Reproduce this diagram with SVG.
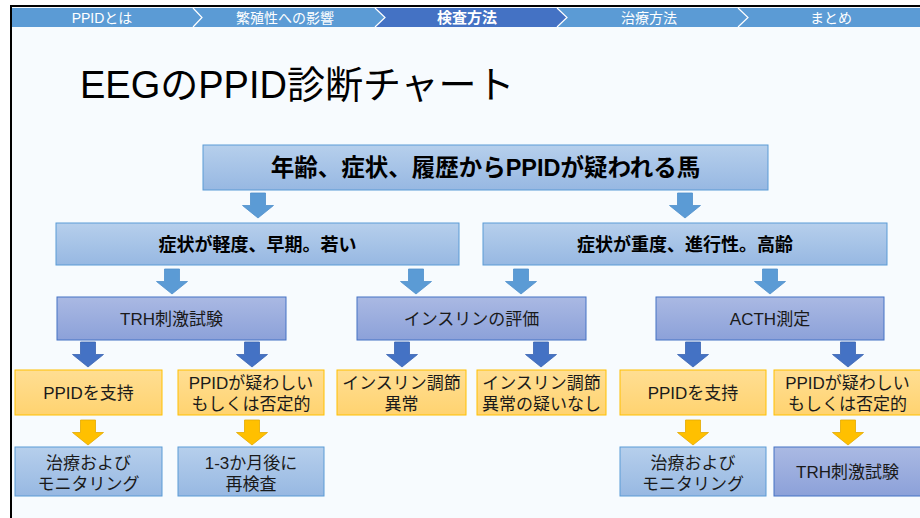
<svg xmlns="http://www.w3.org/2000/svg" width="920" height="518" viewBox="0 0 920 518">
<defs>
<linearGradient id="gBlue" x1="0" y1="0" x2="0" y2="1"><stop offset="0" stop-color="#B6CFEC"/><stop offset="1" stop-color="#97B8E2"/></linearGradient>
<linearGradient id="gPurple" x1="0" y1="0" x2="0" y2="1"><stop offset="0" stop-color="#AAB9E3"/><stop offset="1" stop-color="#8CA1D9"/></linearGradient>
<linearGradient id="gOrange" x1="0" y1="0" x2="0" y2="1"><stop offset="0" stop-color="#FFDE93"/><stop offset="1" stop-color="#FFD370"/></linearGradient>
<path id="arr" d="M-7.5,0 H7.5 V12.5 H15.5 L0,25 L-15.5,12.5 H-7.5 Z"/>
<style>
text{font-family:"Liberation Sans","Noto Sans CJK JP",sans-serif;text-anchor:middle;fill:#1a1a1a}
.tab{fill:#fff;font-size:14px}
.tabA{fill:#fff;font-size:15px;font-weight:bold}
.title{font-size:38px;text-anchor:start;fill:#000}
.nb{fill:url(#gBlue);stroke:#5B9BD5;stroke-width:1}
.np{fill:url(#gPurple);stroke:#4472C4;stroke-width:1}
.no{fill:url(#gOrange);stroke:#FFC000;stroke-width:1}
.big{font-size:23.5px;font-weight:bold;fill:#000}
.mid{font-size:18px;font-weight:bold;fill:#000}
.t{font-size:17px}
.aL{fill:#5B9BD5;stroke:#4F8FCB;stroke-width:0.8}
.aD{fill:#4472C4;stroke:#3A65B3;stroke-width:0.8}
.aY{fill:#FFC000;stroke:#E3AA00;stroke-width:0.8}
.chev{fill:none;stroke:#fff;stroke-width:1.2}
</style>
</defs>
<rect x="0" y="0" width="920" height="518" fill="#fff"/>
<rect x="11" y="6" width="909" height="512" fill="#F7FBFE"/>
<g id="tabs">
<rect x="11" y="8" width="909" height="19" fill="#5B9BD5"/>
<polygon points="375,8 557,8 567,17.5 557,27 375,27 385,17.5" fill="#4472C4"/>
<polyline class="chev" points="193,8 202,17.5 193,27"/>
<polyline class="chev" points="375,8 385,17.5 375,27"/>
<polyline class="chev" points="557,8 567,17.5 557,27"/>
<polyline class="chev" points="738,8 748,17.5 738,27"/>
<text class="tab" x="102" y="23">PPIDとは</text>
<text class="tab" x="285" y="23">繁殖性への影響</text>
<text class="tabA" x="467" y="23">検査方法</text>
<text class="tab" x="649" y="23">治療方法</text>
<text class="tab" x="831" y="23">まとめ</text>
</g>
<rect x="10" y="5" width="910" height="2" fill="#000"/>
<rect x="10" y="5" width="2" height="513" fill="#000"/>
<text class="title" x="80" y="98">EEGのPPID診断チャート</text>
<g id="connectors">
<use href="#arr" class="aL" x="258" y="193"/>
<use href="#arr" class="aL" x="685" y="193"/>
<use href="#arr" class="aL" x="172" y="269"/>
<use href="#arr" class="aL" x="416" y="269"/>
<use href="#arr" class="aL" x="521" y="269"/>
<use href="#arr" class="aL" x="770" y="269"/>
<use href="#arr" class="aD" x="88" y="342"/>
<use href="#arr" class="aD" x="252" y="342"/>
<use href="#arr" class="aD" x="402" y="342"/>
<use href="#arr" class="aD" x="541" y="342"/>
<use href="#arr" class="aD" x="693" y="342"/>
<use href="#arr" class="aD" x="848" y="342"/>
<use href="#arr" class="aY" x="88" y="420"/>
<use href="#arr" class="aY" x="252" y="420"/>
<use href="#arr" class="aY" x="693" y="420"/>
<use href="#arr" class="aY" x="848" y="420"/>
</g>
<g id="n-top"><rect class="nb" x="203" y="145" width="565" height="45"/><text class="big" x="485.5" y="176">年齢、症状、履歴からPPIDが疑われる馬</text></g>
<g id="n-mild"><rect class="nb" x="56" y="223" width="403" height="42"/><text class="mid" x="257.5" y="250.5">症状が軽度、早期。若い</text></g>
<g id="n-severe"><rect class="nb" x="483" y="223" width="404" height="42"/><text class="mid" x="685" y="250.5">症状が重度、進行性。高齢</text></g>
<g id="n-trh"><rect class="np" x="57" y="297" width="229" height="43"/><text class="t" x="171.5" y="324.5">TRH刺激試験</text></g>
<g id="n-ins"><rect class="np" x="357" y="297" width="229" height="43"/><text class="t" x="471.5" y="324.5">インスリンの評価</text></g>
<g id="n-acth"><rect class="np" x="656" y="297" width="228" height="43"/><text class="t" x="770" y="324.5">ACTH測定</text></g>
<g id="n-sup1"><rect class="no" x="15" y="370" width="147" height="45"/><text class="t" x="88.5" y="398.5">PPIDを支持</text></g>
<g id="n-neg1"><rect class="no" x="178" y="370" width="146" height="45"/><text class="t" x="251" y="388.5">PPIDが疑わしい</text><text class="t" x="251" y="409.5">もしくは否定的</text></g>
<g id="n-insab"><rect class="no" x="337" y="370" width="129" height="45"/><text class="t" x="401.5" y="388.5">インスリン調節</text><text class="t" x="401.5" y="409.5">異常</text></g>
<g id="n-insok"><rect class="no" x="477" y="370" width="129" height="45"/><text class="t" x="541.5" y="388.5">インスリン調節</text><text class="t" x="541.5" y="409.5">異常の疑いなし</text></g>
<g id="n-sup2"><rect class="no" x="620" y="370" width="146" height="45"/><text class="t" x="693" y="398.5">PPIDを支持</text></g>
<g id="n-neg2"><rect class="no" x="774" y="370" width="147" height="45"/><text class="t" x="847.5" y="388.5">PPIDが疑わしい</text><text class="t" x="847.5" y="409.5">もしくは否定的</text></g>
<g id="n-treat1"><rect class="nb" x="15" y="447" width="147" height="49"/><text class="t" x="88.5" y="468.5">治療および</text><text class="t" x="88.5" y="489.5">モニタリング</text></g>
<g id="n-retest"><rect class="nb" x="178" y="447" width="146" height="49"/><text class="t" x="251" y="468.5">1-3か月後に</text><text class="t" x="251" y="489.5">再検査</text></g>
<g id="n-treat2"><rect class="nb" x="620" y="447" width="146" height="49"/><text class="t" x="693" y="468.5">治療および</text><text class="t" x="693" y="489.5">モニタリング</text></g>
<g id="n-trh2"><rect class="np" x="774" y="447" width="147" height="49"/><text class="t" x="847.5" y="477.5">TRH刺激試験</text></g>
</svg>
